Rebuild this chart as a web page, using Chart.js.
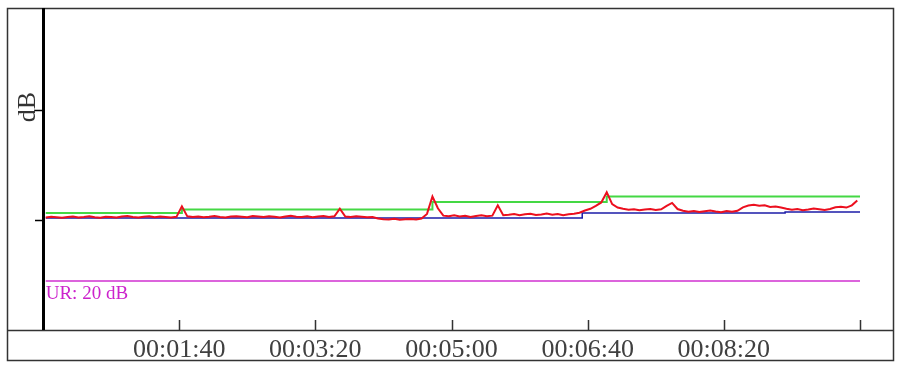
<!DOCTYPE html>
<html>
<head>
<meta charset="utf-8">
<script src="https://cdn.jsdelivr.net/npm/chart.js@4/dist/chart.umd.min.js"></script>
<style>
  html, body { margin: 0; padding: 0; background: #fff; }
  #chart { display: block; }
</style>
</head>
<body>
<canvas id="chart" width="900" height="367"></canvas>
<script>
// time axis in seconds, level axis in dB
const xTicks = [100, 200, 300, 400, 500, 600];
const yTicks = [45, 90];

// measured level, one sample every 4 s starting at 2 s
const levelStart = 2;
const levelStep = 4;
const levelDb = [
    46.0, 46.3, 46.1, 45.9, 46.2, 46.4, 46.0, 46.2, 46.5, 46.1,
    45.9, 46.3, 46.2, 46.0, 46.4, 46.6, 46.2, 46.0, 46.3, 46.5,
    46.1, 46.4, 46.2, 46.0, 46.3, 50.6,
    46.5, 46.2, 46.4, 46.1, 46.3, 46.6, 46.2, 46.0, 46.4, 46.5,
    46.3, 46.1, 46.6, 46.4, 46.2, 46.5, 46.3, 46.0, 46.4, 46.7,
    46.3, 46.2, 46.5, 46.1, 46.4, 46.6, 46.2, 46.5, 49.6,
    46.4, 46.2, 46.5, 46.3, 46.1, 46.2,
    45.6, 45.3, 45.2, 45.5, 45.1, 45.3, 45.4, 45.2, 45.6,
    47.5, 54.6, 49.8, 46.8,
    46.5, 46.9, 46.4, 46.7, 46.2, 46.6, 46.9, 46.5, 46.8,
    51.0, 47.0,
    47.2, 47.5, 47.0, 47.4, 47.6, 47.1, 47.3, 47.7, 47.2, 47.5, 47.0, 47.4, 47.6,
    48.0, 48.9, 49.6, 50.8, 52.2, 56.4, 51.5, 50.1,
    49.6, 49.2, 49.4, 49.0, 49.3, 49.5, 49.1, 49.4,
    50.8, 52.0, 49.5,
    48.8, 48.4, 48.7, 48.3, 48.6, 48.9, 48.5, 48.2, 48.7, 48.4, 48.8,
    50.2, 50.9, 51.2, 50.8, 51.0,
    50.3, 50.5, 50.1,
    49.6, 49.2, 49.5, 49.0, 49.3, 49.7, 49.4, 49.1, 49.5,
    50.2, 50.4, 50.1,
    51.0, 53.0
];

// running maximum (green)
const maxTimes = [2, 102, 102, 286, 286, 414, 414, 600];
const maxDb = [47.9, 47.9, 49.3, 49.3, 52.4, 52.4, 54.6, 54.6];

// lower trace (blue)
const lowTimes = [2, 396, 396, 545, 545, 600];
const lowDb = [45.8, 45.8, 47.9, 47.9, 48.3, 48.3];

// lower range marker (magenta)
const urTimes = [2, 600];
const urDb = [20, 20];
const urLabel = 'UR: 20 dB';

const serif = '"Liberation Serif", "Times New Roman", serif';

function toPoints(xs, ys) {
    return ys.map((y, i) => ({ x: xs[i], y: y }));
}

function pad(n) {
    return String(n).padStart(2, '0');
}

function formatTime(s) {
    const h = Math.floor(s / 3600);
    const m = Math.floor((s % 3600) / 60);
    return pad(h) + ':' + pad(m) + ':' + pad(s % 60);
}

const levelPoints = levelDb.map((v, i) => ({ x: levelStart + i * levelStep, y: v }));

// frame, left axis, tick marks and labels
const framePlugin = {
    id: 'frame',
    afterDraw(chart) {
        const ctx = chart.ctx;
        const area = chart.chartArea;
        const xs = chart.scales.x;
        const ys = chart.scales.y;
        ctx.save();

        ctx.strokeStyle = '#333';
        ctx.lineWidth = 1.5;
        ctx.strokeRect(7.5, 8.5, 886, 352);
        ctx.beginPath();
        ctx.moveTo(7.5, area.bottom + 0.5);
        ctx.lineTo(893.5, area.bottom + 0.5);
        ctx.stroke();

        // x tick marks point up into the plot
        ctx.beginPath();
        xTicks.forEach(t => {
            const px = Math.round(xs.getPixelForValue(t)) + 0.5;
            ctx.moveTo(px, area.bottom - 10);
            ctx.lineTo(px, area.bottom);
        });
        ctx.stroke();

        // x tick labels
        ctx.fillStyle = '#404040';
        ctx.font = '26px ' + serif;
        ctx.textAlign = 'center';
        ctx.textBaseline = 'middle';
        xTicks.forEach(t => {
            if (t < 600) ctx.fillText(formatTime(t), xs.getPixelForValue(t), area.bottom + 20);
        });

        // y tick marks
        ctx.strokeStyle = '#000';
        ctx.beginPath();
        yTicks.forEach(v => {
            const py = Math.round(ys.getPixelForValue(v)) + 0.5;
            ctx.moveTo(area.left - 8, py);
            ctx.lineTo(area.left, py);
        });
        ctx.stroke();

        // thick left axis
        ctx.fillStyle = '#000';
        ctx.fillRect(area.left - 1, 8, 3, area.bottom - 8);

        // axis title
        ctx.fillStyle = '#333';
        ctx.font = '26px ' + serif;
        ctx.textAlign = 'center';
        ctx.textBaseline = 'middle';
        ctx.translate(28, 107);
        ctx.rotate(-Math.PI / 2);
        ctx.fillText('dB', 0, 0);
        ctx.setTransform(1, 0, 0, 1, 0, 0);

        // lower range label
        ctx.fillStyle = '#cc22cc';
        ctx.font = '19px ' + serif;
        ctx.textAlign = 'left';
        ctx.textBaseline = 'top';
        ctx.fillText(urLabel, xs.getPixelForValue(urTimes[0]), ys.getPixelForValue(urDb[0]) + 3);

        ctx.restore();
    }
};

new Chart(document.getElementById('chart'), {
    type: 'scatter',
    data: {
        datasets: [
            {
                label: 'Level',
                data: levelPoints,
                showLine: true,
                borderColor: '#ec0f1e',
                borderWidth: 2,
                pointRadius: 0,
                order: 0
            },
            {
                label: 'Max',
                data: toPoints(maxTimes, maxDb),
                showLine: true,
                borderColor: '#44d844',
                borderWidth: 2,
                pointRadius: 0,
                order: 1
            },
            {
                label: 'Low',
                data: toPoints(lowTimes, lowDb),
                showLine: true,
                borderColor: '#1c1ca8',
                borderWidth: 1.5,
                pointRadius: 0,
                order: 2
            },
            {
                label: 'UR',
                data: toPoints(urTimes, urDb),
                showLine: true,
                borderColor: '#d030d0',
                borderWidth: 1.5,
                pointRadius: 0,
                order: 3
            }
        ]
    },
    options: {
        responsive: false,
        animation: false,
        layout: { padding: { left: 43, right: 40, top: 8, bottom: 37 } },
        plugins: {
            legend: { display: false },
            tooltip: { enabled: false }
        },
        scales: {
            x: {
                type: 'linear',
                display: false,
                min: 0,
                max: 600
            },
            y: {
                display: false,
                min: 0,
                max: 131.75
            }
        }
    },
    plugins: [framePlugin]
});
</script>
</body>
</html>
